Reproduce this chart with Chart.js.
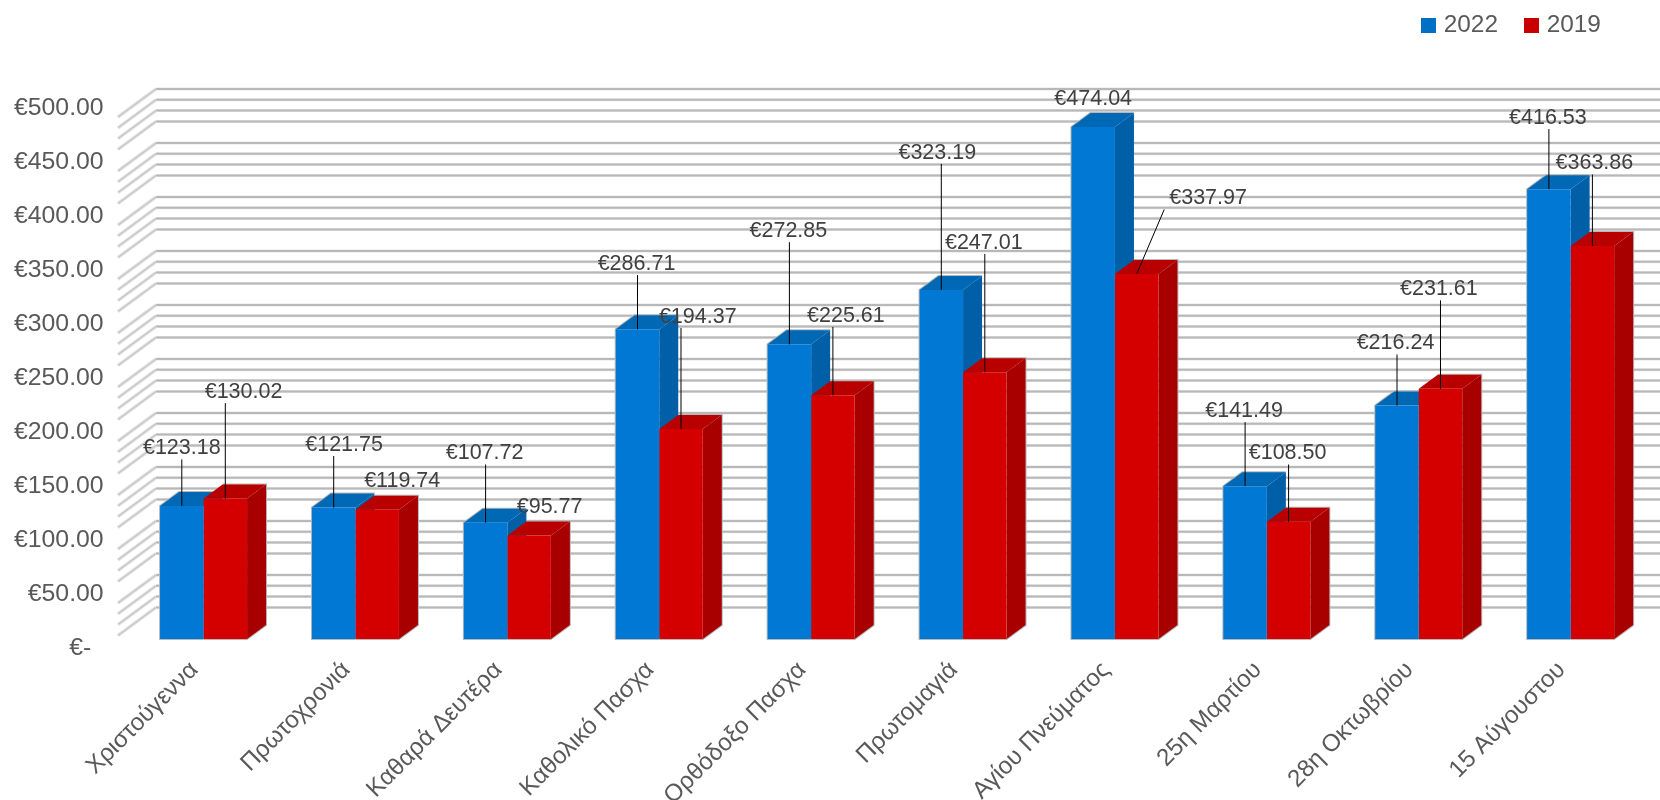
<!DOCTYPE html>
<html><head><meta charset="utf-8">
<style>html,body{margin:0;padding:0;background:#fff}canvas{display:block}</style>
<script src="https://cdn.jsdelivr.net/npm/chart.js@4"></script>
</head><body><canvas id="c" width="1660" height="800" style="width:1660px;height:800px"></canvas>
<script>
const categories = ["Χριστούγεννα","Πρωτοχρονιά","Καθαρά Δευτέρα","Καθολικό Πασχα","Ορθόδοξο Πασχα","Πρωτομαγιά","Αγίου Πνεύματος","25η Μαρτίου","28η Οκτωβρίου","15 Αύγουστου"];
const values2022 = [123.18,121.75,107.72,286.71,272.85,323.19,474.04,141.49,216.24,416.53];
const values2019 = [130.02,119.74,95.77,194.37,225.61,247.01,337.97,108.50,231.61,363.86];
const gridValues = [500,490,480,470,450,440,430,420,400,390,380,370,350,340,330,320,300,290,280,270,250,240,230,220,200,190,180,170,150,140,130,120,100,90,80,70,50,40,30,20];

// label placement, px relative to the top centre of the bar
const labelDx2022 = [0,10.4,-1,-1,-1,-4,0,-1,-1.5,-1];
const labelDy2022 = [-59,-64,-70.7,-66.8,-114.6,-138.6,-29.6,-76.5,-63.5,-72.6];
const labelDx2019 = [18.25,25,20.5,16.75,13,-1,71.4,-1,-1.6,2];
const labelDy2019 = [-108,-30,-29.6,-113.6,-80.9,-130.8,-77,-69.8,-101,-84];

const BASE_PX = 639, PX_PER_UNIT = 1.08, LABEL_DROP = 9;
const DEPTH_X = 19, DEPTH_Y = 14;          // bar extrusion
const WALL_X = 38, WALL_Y = 28, WALL_LIFT = 10, WALL_LEFT = 156;  // chart wall
const TEXT = '#595959', FONT = '"Liberation Sans", Arial, sans-serif';
const series = [
  {label:'2022', data:values2022, front:'#0078d4', top:'#0068b4', side:'#005fa6', swatch:'#0070c4', dx:labelDx2022, dy:labelDy2022},
  {label:'2019', data:values2019, front:'#d40000', top:'#b80000', side:'#a80000', swatch:'#c80000', dx:labelDx2019, dy:labelDy2019}
];
function swatch(color){const s=document.createElement('canvas');s.width=15;s.height=15;const g=s.getContext('2d');g.fillStyle=color;g.fillRect(0,0,15,15);return s;}

const wallPlugin = {id:'wall', beforeDatasetsDraw(chart){
  const ctx=chart.ctx, y=chart.scales.y; ctx.save();
  gridValues.forEach(v=>{
    const py=y.getPixelForValue(v)-WALL_LIFT;
    ctx.beginPath();ctx.moveTo(WALL_LEFT,py);ctx.lineTo(chart.width,py);
    ctx.strokeStyle='#e6e6e6';ctx.lineWidth=3;ctx.stroke();
    ctx.strokeStyle='#b8b8b8';ctx.lineWidth=2;ctx.stroke();
    ctx.beginPath();ctx.moveTo(WALL_LEFT-WALL_X,py+WALL_Y);ctx.lineTo(WALL_LEFT,py);
    ctx.strokeStyle='#e4e4e4';ctx.lineWidth=3.5;ctx.stroke();
    ctx.strokeStyle='#c4c4c4';ctx.lineWidth=1.2;ctx.stroke();
  });
  // bar faces: 2022 first so the 2019 bar sits in front of its side face; fronts are the library's bars
  series.forEach((s,si)=>{
    chart.getDatasetMeta(si).data.forEach(b=>{
      const l=b.x-b.width/2, r=b.x+b.width/2, t=b.y, base=b.base;
      ctx.beginPath();
      if(si===0){ctx.moveTo(r,base);ctx.lineTo(l,base);ctx.lineTo(l,t);ctx.lineTo(l+DEPTH_X,t-DEPTH_Y);ctx.lineTo(r+DEPTH_X,t-DEPTH_Y);}
      else{ctx.moveTo(l+DEPTH_X,t-DEPTH_Y);ctx.lineTo(r+DEPTH_X,t-DEPTH_Y);ctx.lineTo(r+DEPTH_X,base-DEPTH_Y);ctx.lineTo(r,base);ctx.lineTo(l,base);}
      ctx.strokeStyle='#b8b8b8';ctx.lineWidth=2;ctx.stroke();
      ctx.beginPath();ctx.moveTo(l,t);ctx.lineTo(l+DEPTH_X,t-DEPTH_Y);ctx.lineTo(r+DEPTH_X,t-DEPTH_Y);ctx.lineTo(r,t);ctx.closePath();
      ctx.fillStyle=s.top;ctx.fill();
      ctx.beginPath();ctx.moveTo(r,t);ctx.lineTo(r+DEPTH_X,t-DEPTH_Y);ctx.lineTo(r+DEPTH_X,base-DEPTH_Y);ctx.lineTo(r,base);ctx.closePath();
      ctx.fillStyle=s.side;ctx.fill();
    });
  });
  ctx.restore();
}};
const labelPlugin = {id:'valueLabels', afterDatasetsDraw(chart){
  const ctx=chart.ctx; ctx.save();
  ctx.font='21.5px '+FONT;ctx.textAlign='center';ctx.textBaseline='middle';
  series.forEach((s,si)=>{
    chart.getDatasetMeta(si).data.forEach((b,i)=>{
      const lx=b.x+s.dx[i], ly=b.y+s.dy[i]+1.5, txt='€'+s.data[i].toFixed(2);
      if(s.dy[i]<-35){
        const w=ctx.measureText(txt).width/2;
        const ex=Math.max(lx-w-5,Math.min(lx+w,b.x));
        ctx.beginPath();ctx.moveTo(b.x,b.y);ctx.lineTo(ex,ly+11);
        ctx.strokeStyle='#000';ctx.lineWidth=1;ctx.stroke();
      }
      ctx.fillStyle='#404040';ctx.fillText(txt,lx,ly);
    });
  });
  ctx.restore();
}};
const placePlugin = {id:'place', afterLayout(chart){
  const l=chart.legend; l.top=-16.5; l.bottom=l.top+l.height; l.left=1395; l.right=chart.width;
  const a=chart.chartArea;
  [[chart.scales.y,BASE_PX],[chart.scales.yLabel,BASE_PX+LABEL_DROP]].forEach(([s,zero])=>{
    s.min=-(a.bottom-zero)/PX_PER_UNIT; s.max=(zero-a.top)/PX_PER_UNIT; s.configure();
  });
}};

new Chart(document.getElementById('c'),{
  type:'bar',
  data:{labels:categories,datasets:series.map(s=>({label:s.label,data:s.data,backgroundColor:s.front,borderWidth:0,categoryPercentage:0.5727,barPercentage:1,yAxisID:'y'}))},
  plugins:[wallPlugin,labelPlugin,placePlugin],
  options:{
    responsive:false,animation:false,
    layout:{padding:{left:0,right:13.4,top:0,bottom:0}},
    plugins:{tooltip:{enabled:false},
      legend:{position:'top',align:'start',onClick:null,labels:{
        usePointStyle:true,boxHeight:8,boxWidth:6.6,padding:29.9,color:TEXT,font:{family:FONT,size:24.4},
        generateLabels:()=>series.map((s,i)=>({text:s.label,fontColor:TEXT,pointStyle:swatch(s.swatch),datasetIndex:i,hidden:false,lineWidth:0}))
      }}
    },
    scales:{
      x:{grid:{display:false},border:{display:false},
        afterFit(s){s.height=140;},
        ticks:{autoSkip:false,minRotation:45,maxRotation:45,padding:-12,labelOffset:-9,color:TEXT,font:{family:FONT,size:24.2}}},
      y:{display:false,min:-19,max:540},
      yLabel:{position:'left',min:-12,max:547,
        grid:{display:false},border:{display:false},
        afterFit(s){s.width=127.6;},
        ticks:{stepSize:50,includeBounds:false,autoSkip:false,padding:16,color:TEXT,font:{family:FONT,size:24.8},
          callback:v=>v===0?'€-\u2002':'€'+v.toFixed(2)}}
    }
  }
});
</script></body></html>
